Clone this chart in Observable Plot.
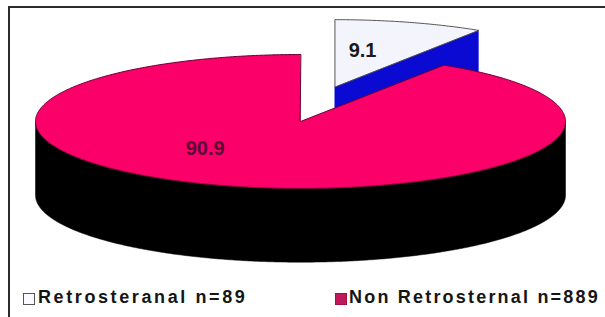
<!DOCTYPE html>
<html><head><meta charset="utf-8">
<script src="https://cdn.jsdelivr.net/npm/d3@7"></script>
<script src="https://cdn.jsdelivr.net/npm/@observablehq/plot@0.6"></script>
<style>
body{margin:0;background:#fff;}
#wrap{position:relative;width:605px;height:317px;overflow:hidden;background:#fff;font-family:"Liberation Sans",Arial,sans-serif;}
#frame{position:absolute;left:8px;top:6px;width:620px;height:340px;border-left:2px solid #2b2b2b;border-top:2px solid #2b2b2b;}
#chart{position:absolute;left:0;top:0;}
.sw{position:absolute;top:293px;width:10px;height:10px;}
.lt{position:absolute;top:287px;font-weight:bold;font-size:18px;line-height:20px;color:#151515;white-space:nowrap;}
</style></head>
<body>
<div id="wrap">
  <div id="frame"></div>
  <div id="chart"></div>
  <div class="sw" style="left:23px;background:#fbfbff;border:1px solid #555;"></div>
  <div class="lt" id="l0" style="left:38px;letter-spacing:2.6px;"></div>
  <div class="sw" style="left:335px;background:#c0185a;border:1px solid #a01048;"></div>
  <div class="lt" id="l1" style="left:349px;letter-spacing:2.2px;"></div>
</div>
<script>
// ---- data ----
const categories = ["Retrosteranal", "Non Retrosternal"];
const counts = [89, 889];
const percents = [9.1, 90.9];
const legendLabels = categories.map((c, i) => `${c} n=${counts[i]}`);

// ---- styles / geometry options ----
const topColors = ["#f4f4fc", "#fa0068"];
const sideColors = ["#0a0ad2", "#000000"];
const edgeColors = ["#555555", "#6a0034"];
const labelColors = ["#1a1a1a", "#5a0a38"];
const depth = 1.1;                        // wall height in y-units
const explode = [{dx: 0.13, dy: 0.52}, {dx: 0, dy: 0}];

const pie = d3.pie().sort(null).startAngle(0).endAngle(2 * Math.PI)(percents);

function pt(a, r, off, z) {
  return {x: off.dx + r * Math.sin(a), y: off.dy + r * Math.cos(a) - z};
}
function arc(a0, a1, off, z) {
  const n = Math.max(2, Math.ceil(Math.abs(a1 - a0) / 0.01));
  return d3.range(n + 1).map(k => pt(a0 + (a1 - a0) * k / n, 1, off, z));
}

const marks = [];
// draw slices back to front: small (exploded, back) first, then big
pie.forEach((s, i) => {
  const off = explode[i];
  const a0 = s.startAngle, a1 = s.endAngle;
  // outer wall: visible between PI/2 and 3PI/2
  const w0 = Math.max(a0, Math.PI / 2), w1 = Math.min(a1, 3 * Math.PI / 2);
  if (w1 > w0) {
    const wall = arc(w0, w1, off, 0).concat(arc(w1, w0, off, depth));
    marks.push(Plot.line(wall, {x: "x", y: "y", curve: "linear-closed", fill: sideColors[i], stroke: sideColors[i], strokeWidth: 0.5}));
  }
  // radial face at end angle, visible if it faces front
  if (Math.cos(a1 + Math.PI / 2) < 0 && a1 < 2 * Math.PI - 1e-6) {
    const face = [pt(a1, 0, off, 0), pt(a1, 1, off, 0), pt(a1, 1, off, depth), pt(a1, 0, off, depth)];
    marks.push(Plot.line(face, {x: "x", y: "y", curve: "linear-closed", fill: sideColors[i], stroke: sideColors[i], strokeWidth: 0.5}));
  }
  // top face
  const topFace = [pt(a0, 0, off, 0)].concat(arc(a0, a1, off, 0));
  marks.push(Plot.line(topFace, {x: "x", y: "y", curve: "linear-closed", fill: topColors[i], stroke: edgeColors[i], strokeWidth: 1}));
});

// labels at slice bisectors
const labelOpts = [{r: 0.45, dx: -6, dy: -7}, {r: 0.5, dx: -58, dy: -5}];
pie.forEach((s, i) => {
  const mid = (s.startAngle + s.endAngle) / 2;
  const p = pt(mid, labelOpts[i].r, explode[i], 0);
  marks.push(Plot.text([{...p, label: String(percents[i])}], {
    x: "x", y: "y", text: "label", fill: labelColors[i],
    fontSize: 20, fontWeight: "bold", fontFamily: "Liberation Sans, Arial, sans-serif",
    dx: labelOpts[i].dx, dy: labelOpts[i].dy, style: "letter-spacing:1.5px"
  }));
});

const chart = Plot.plot({
  width: 605, height: 282,
  marginTop: 0, marginRight: 0, marginBottom: 0, marginLeft: 0,
  x: {domain: [-1, 1], range: [35, 565], axis: null},
  y: {domain: [-1, 1], range: [188, 54], axis: null},
  style: {background: "transparent", overflow: "visible"},
  marks
});
document.getElementById("chart").appendChild(chart);
document.getElementById("l0").textContent = legendLabels[0];
document.getElementById("l1").textContent = legendLabels[1];
</script>
</body></html>
